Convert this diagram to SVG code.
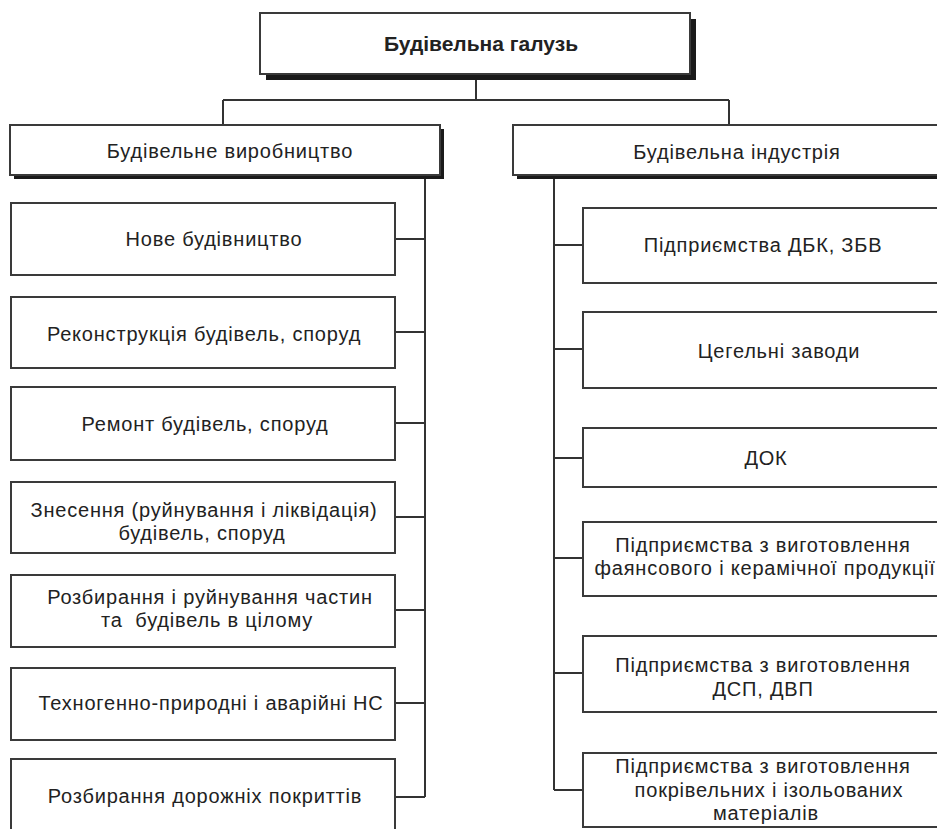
<svg xmlns="http://www.w3.org/2000/svg" width="937" height="829" viewBox="0 0 937 829">
<style>
.box{fill:#fff;stroke:#3a3a3a;stroke-width:2}
.sh{fill:#1a1a1a}
.t{font-family:"Liberation Sans",Arial,sans-serif;font-size:20px;fill:#222;text-anchor:middle;letter-spacing:0.8px;white-space:pre}
.tb{font-family:"Liberation Sans",Arial,sans-serif;font-size:21px;font-weight:bold;fill:#222;text-anchor:middle}
.c{fill:none;stroke:#333;stroke-width:2}
</style>
<rect width="937" height="829" fill="#fff"/>
<g id="connectors">
<path class="c" d="M476,74V100M223,100H729M223,100V125M729,100V125"/>
<path class="c" d="M425,175V797M395,239H425M395,332H425M395,423H425M395,517H425M395,610H425M395,703H425M395,797H425"/>
<path class="c" d="M554,175V790M554,245H583M554,349H583M554,458H583M554,558H583M554,673H583M554,790H583"/>
</g>
<g id="root">
<rect class="sh" x="266" y="19" width="430" height="61"/>
<rect class="box" x="260" y="13" width="430" height="61"/>
<text class="tb" x="481" y="51">Будівельна галузь</text>
</g>
<g id="prod">
<rect class="sh" x="14" y="129" width="430" height="50"/>
<rect class="box" x="10" y="125" width="430" height="50"/>
<text class="t" x="230" y="158">Будівельне виробництво</text>
</g>
<g id="ind">
<rect class="sh" x="517" y="129" width="430" height="50"/>
<rect class="box" x="513" y="125" width="430" height="50"/>
<text class="t" x="737" y="159">Будівельна індустрія</text>
</g>
<g id="l1"><rect class="box" x="11" y="203" width="384" height="72"/><text class="t" x="214" y="246">Нове будівництво</text></g>
<g id="l2"><rect class="box" x="11" y="297" width="384" height="71"/><text class="t" x="204" y="341">Реконструкція будівель, споруд</text></g>
<g id="l3"><rect class="box" x="11" y="387" width="384" height="73"/><text class="t" x="205" y="431">Ремонт будівель, споруд</text></g>
<g id="l4"><rect class="box" x="11" y="482" width="384" height="71"/><text class="t" x="204" y="517">Знесення (руйнування і ліквідація)</text><text class="t" x="202" y="540">будівель, споруд</text></g>
<g id="l5"><rect class="box" x="11" y="575" width="384" height="72"/><text class="t" x="210" y="604">Розбирання і руйнування частин</text><text class="t" x="207" y="627">та  будівель в цілому</text></g>
<g id="l6"><rect class="box" x="11" y="668" width="384" height="72"/><text class="t" x="211" y="710">Техногенно-природні і аварійні НС</text></g>
<g id="l7"><rect class="box" x="11" y="759" width="384" height="80"/><text class="t" x="205" y="803">Розбирання дорожніх покриттів</text></g>
<g id="r1"><rect class="box" x="583" y="208" width="400" height="75"/><text class="t" x="763" y="252">Підприємства ДБК, ЗБВ</text></g>
<g id="r2"><rect class="box" x="583" y="312" width="400" height="76"/><text class="t" x="779" y="358">Цегельні заводи</text></g>
<g id="r3"><rect class="box" x="583" y="428" width="400" height="59"/><text class="t" x="766" y="465">ДОК</text></g>
<g id="r4"><rect class="box" x="583" y="522" width="400" height="74"/><text class="t" x="763" y="552">Підприємства з виготовлення</text><text class="t" x="765" y="575">фаянсового і керамічної продукції</text></g>
<g id="r5"><rect class="box" x="583" y="636" width="400" height="76"/><text class="t" x="763" y="672">Підприємства з виготовлення</text><text class="t" x="763" y="696">ДСП, ДВП</text></g>
<g id="r6"><rect class="box" x="583" y="753" width="400" height="74"/><text class="t" x="763" y="773">Підприємства з виготовлення</text><text class="t" x="769" y="797">покрівельних і ізольованих</text><text class="t" x="766" y="820">матеріалів</text></g>
</svg>
